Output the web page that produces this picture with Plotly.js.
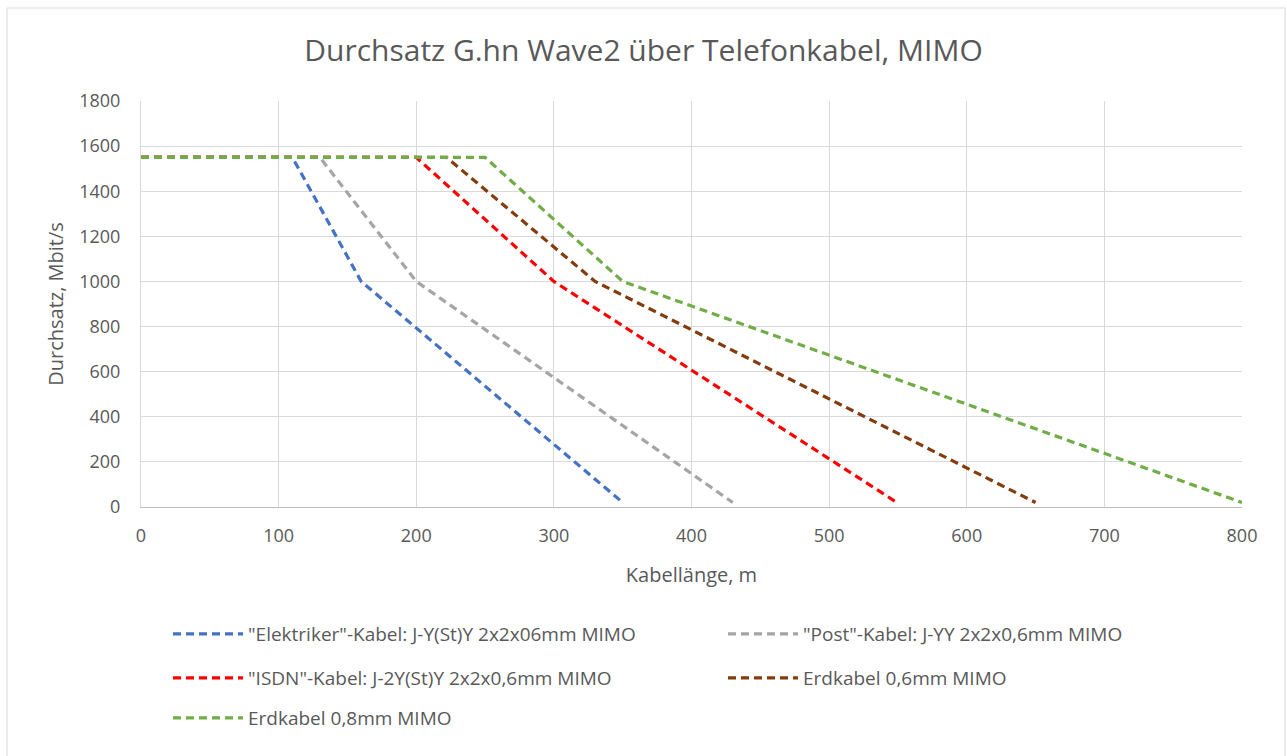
<!DOCTYPE html>
<html>
<head>
<meta charset="utf-8">
<script src="https://cdn.plot.ly/plotly-3.0.1.min.js"></script>
<style>html,body{margin:0;padding:0;background:#fff;}#chart{width:1287px;height:756px;}</style>
</head>
<body>
<div id="chart"></div>
<script>
// Data (Kabellänge in m, Durchsatz in Mbit/s)
const seriesNames = [
  '"Elektriker"-Kabel: J-Y(St)Y 2x2x06mm MIMO',
  '"Post"-Kabel: J-YY 2x2x0,6mm MIMO',
  '"ISDN"-Kabel: J-2Y(St)Y 2x2x0,6mm MIMO',
  'Erdkabel 0,6mm MIMO',
  'Erdkabel 0,8mm MIMO'
];
const elektrikerX = [0, 110, 160, 350];
const elektrikerY = [1550, 1550, 1000, 20];
const postX = [0, 130, 200, 430];
const postY = [1550, 1550, 1000, 20];
const isdnX = [0, 200, 300, 548];
const isdnY = [1550, 1550, 1000, 25];
const erd06X = [0, 222, 330, 650];
const erd06Y = [1550, 1550, 1000, 20];
const erd08X = [0, 250, 350, 800];
const erd08Y = [1550, 1550, 1000, 20];
const xTicks = [0, 100, 200, 300, 400, 500, 600, 700, 800];
const yTicks = [0, 200, 400, 600, 800, 1000, 1200, 1400, 1600, 1800];

const colors = ['#4472C4', '#A5A5A5', '#FF0000', '#843C0C', '#70AD47'];
const xs = [elektrikerX, postX, isdnX, erd06X, erd08X];
const ys = [elektrikerY, postY, isdnY, erd06Y, erd08Y];
const legendIds = ['legend', 'legend2', 'legend3', 'legend4', 'legend5'];

const traces = [0, 1, 2, 3, 4].map(i => ({
  type: 'scatter', mode: 'lines',
  x: xs[i], y: ys[i], name: seriesNames[i],
  line: {color: colors[i], width: 3.2, dash: '8px,5px'},
  legend: legendIds[i]
}));

const font = '"Open Sans", sans-serif';
const plotL = 141, plotR = 1242, plotT = 101, plotB = 507;
const px2x = p => (p - plotL) / (plotR - plotL);
const px2y = p => (plotB - p) / (plotB - plotT);
const legendAt = (px, py) => ({
  orientation: 'h', xanchor: 'left', yanchor: 'middle',
  x: px2x(px), y: px2y(py),
  itemwidth: 70, bgcolor: 'rgba(0,0,0,0)',
  font: {family: font, size: 19, color: '#595959'}
});

const layout = {
  width: 1287, height: 756,
  margin: {l: plotL, r: 1287 - plotR, t: plotT, b: 756 - plotB},
  paper_bgcolor: '#fff', plot_bgcolor: '#fff',
  font: {family: font, color: '#595959'},
  title: {text: 'Durchsatz G.hn Wave2 über Telefonkabel, MIMO', x: 0.5, xanchor: 'center', y: 1 - 50/756, yanchor: 'middle',
    font: {family: font, size: 30, color: '#595959'}},
  xaxis: {range: [0, 800], tickvals: xTicks, ticktext: xTicks.map(String),
    showgrid: true, gridcolor: '#D9D9D9', gridwidth: 1, zeroline: false,
    showline: true, linecolor: '#BFBFBF', linewidth: 1,
    ticks: '', ticklabelstandoff: 12, tickfont: {size: 18, color: '#595959'},
    title: {text: 'Kabellänge, m', font: {size: 20, color: '#595959'}, standoff: 22}},
  yaxis: {range: [0, 1800], tickvals: yTicks, ticktext: yTicks.map(String),
    showgrid: true, gridcolor: '#D9D9D9', gridwidth: 1, zeroline: false,
    showline: true, linecolor: '#D9D9D9', ticks: '',
    ticklabelstandoff: 16, tickfont: {size: 18, color: '#595959'},
    title: {text: 'Durchsatz, Mbit/s', font: {size: 20, color: '#595959'}, standoff: 10}},
  showlegend: true,
  legend: legendAt(168, 634),
  legend2: legendAt(723, 634),
  legend3: legendAt(168, 678),
  legend4: legendAt(723, 678),
  legend5: legendAt(168, 718),
  shapes: [
    {type: 'line', xref: 'paper', yref: 'paper', x0: px2x(7), x1: px2x(7), y0: px2y(8), y1: px2y(760), line: {color: '#D9D9D9', width: 1}},
    {type: 'line', xref: 'paper', yref: 'paper', x0: px2x(7), x1: px2x(1285), y0: px2y(8), y1: px2y(8), line: {color: '#D9D9D9', width: 1}},
    {type: 'line', xref: 'paper', yref: 'paper', x0: px2x(1285), x1: px2x(1285), y0: px2y(8), y1: px2y(760), line: {color: '#D9D9D9', width: 1}}
  ]
};

Plotly.newPlot('chart', traces, layout, {displayModeBar: false, staticPlot: true});
</script>
</body>
</html>
